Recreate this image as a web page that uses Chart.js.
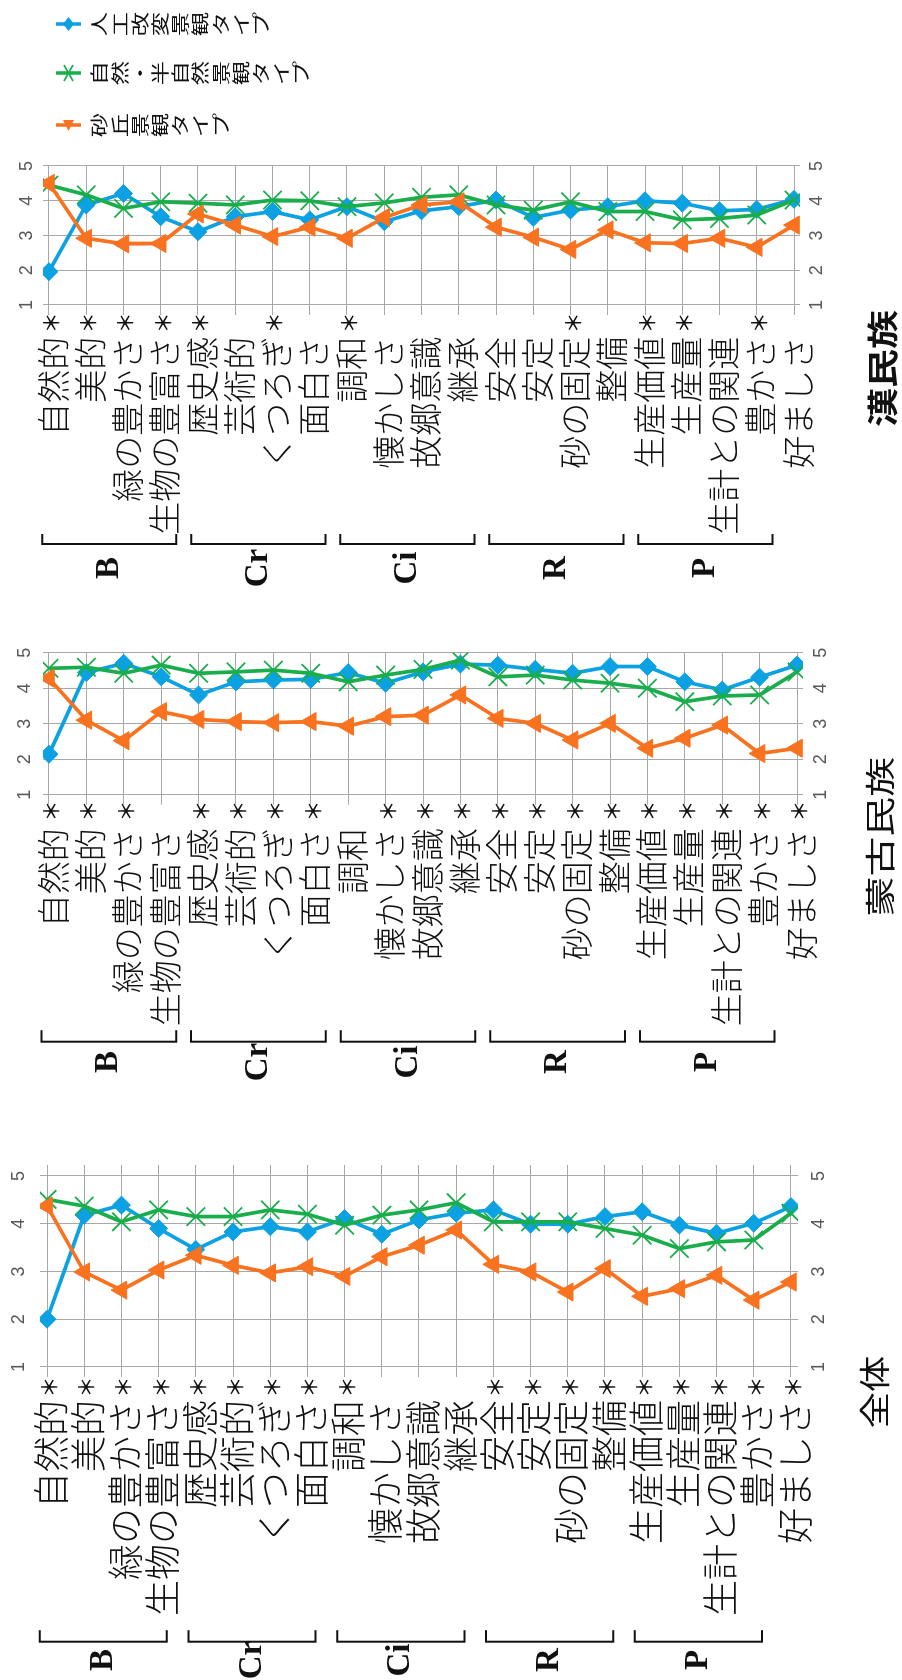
<!DOCTYPE html>
<html>
<head>
<meta charset="utf-8">
<script src="https://cdn.jsdelivr.net/npm/chart.js@4/dist/chart.umd.min.js"></script>
<style>
  html, body { margin: 0; padding: 0; background: #fff; overflow: hidden; width: 902px; height: 1680px; }
  /* the whole figure is laid out landscape and turned a quarter turn, like the source */
  #sheet { position: absolute; left: 0; top: 0; width: 1680px; height: 902px;
           transform-origin: 0 0; transform: translate(0px, 1680px) rotate(-90deg); }
  #sheet canvas { position: absolute; top: 0; }
</style>
</head>
<body>
<div id="sheet">
  <canvas id="allChart" width="560" height="902" style="left:0px"></canvas>
  <canvas id="mongolChart" width="500" height="902" style="left:560px"></canvas>
  <canvas id="hanChart" width="620" height="902" style="left:1060px"></canvas>
</div>
<script>
const categories = ["自然的", "美的", "緑の豊かさ", "生物の豊富さ", "歴史感", "芸術的", "くつろぎ", "面白さ",
  "調和", "懐かしさ", "故郷意識", "継承", "安全", "安定", "砂の固定", "整備",
  "生産価値", "生産量", "生計との関連", "豊かさ", "好ましさ"];
const groupNames = ["B", "Cr", "Ci", "R", "P"];
const groupFirst = [0, 4, 8, 12, 16];
const groupLast = [3, 7, 11, 15, 19];
const seriesNames = ["人工改変景観タイプ", "自然・半自然景観タイプ", "砂丘景観タイプ"];

// 全体
const allArtificial = [2.00, 4.18, 4.39, 3.90, 3.46, 3.83, 3.94, 3.83, 4.11, 3.78, 4.08, 4.22, 4.29, 3.99, 3.99, 4.15, 4.25, 3.97, 3.80, 4.01, 4.36];
const allNatural = [4.51, 4.37, 4.04, 4.29, 4.15, 4.15, 4.29, 4.20, 3.97, 4.18, 4.29, 4.44, 4.04, 4.04, 4.04, 3.90, 3.76, 3.48, 3.62, 3.66, 4.22];
const allDune = [4.37, 2.99, 2.61, 3.03, 3.34, 3.13, 2.97, 3.10, 2.90, 3.31, 3.55, 3.87, 3.15, 2.99, 2.57, 3.06, 2.48, 2.64, 2.92, 2.40, 2.78];
const allStars = [1, 1, 1, 1, 1, 1, 1, 1, 1, 0, 0, 0, 1, 1, 1, 1, 1, 1, 1, 1, 1];

// 蒙古民族
const mongolArtificial = [2.14, 4.44, 4.70, 4.32, 3.81, 4.18, 4.23, 4.25, 4.44, 4.14, 4.46, 4.68, 4.65, 4.53, 4.42, 4.61, 4.61, 4.18, 3.95, 4.31, 4.65];
const mongolNatural = [4.56, 4.59, 4.42, 4.65, 4.42, 4.46, 4.51, 4.42, 4.18, 4.37, 4.53, 4.79, 4.32, 4.37, 4.23, 4.14, 4.00, 3.62, 3.78, 3.81, 4.46];
const mongolDune = [4.28, 3.10, 2.52, 3.34, 3.12, 3.06, 3.03, 3.06, 2.93, 3.20, 3.24, 3.81, 3.15, 3.01, 2.54, 3.01, 2.31, 2.59, 2.96, 2.16, 2.31];
const mongolStars = [1, 1, 1, 0, 1, 1, 1, 1, 0, 1, 1, 1, 1, 1, 1, 1, 1, 1, 1, 1, 1];

// 漢民族
const hanArtificial = [1.96, 3.88, 4.21, 3.54, 3.11, 3.54, 3.69, 3.45, 3.83, 3.40, 3.71, 3.83, 4.02, 3.52, 3.73, 3.83, 4.00, 3.93, 3.71, 3.75, 4.04];
const hanNatural = [4.45, 4.17, 3.78, 3.97, 3.93, 3.88, 4.02, 4.00, 3.83, 3.94, 4.10, 4.17, 3.88, 3.73, 3.97, 3.69, 3.69, 3.45, 3.49, 3.59, 4.02];
const hanDune = [4.50, 2.92, 2.76, 2.77, 3.62, 3.30, 2.97, 3.24, 2.92, 3.52, 3.88, 3.97, 3.24, 2.95, 2.60, 3.16, 2.79, 2.77, 2.92, 2.66, 3.30];
const hanStars = [1, 1, 1, 1, 1, 0, 1, 0, 1, 0, 0, 0, 0, 0, 1, 0, 1, 1, 0, 1, 0];

const colors = ["#0ba1e2", "#19ae4b", "#f8721f"];
const pointStyles = ["rectRot", "crossRot", "triangle"];
const pointSizes = [9, 13, 10.5];
const gridColor = "#a8a8a8";
const jp = '"Noto Sans CJK JP", "Noto Sans CJK SC", sans-serif';

const keepWhole = (scale) => {
  scale.ticks = scale.ticks.filter((t) => Math.abs(t.value - Math.round(t.value)) < 1e-6);
};

function drawLegend(ctx) {
  const cols = [596, 547, 495];
  cols.forEach((x, k) => {
    ctx.strokeStyle = colors[k];
    ctx.fillStyle = colors[k];
    ctx.lineWidth = 3.5;
    ctx.beginPath();
    ctx.moveTo(x, 56);
    ctx.lineTo(x, 81);
    ctx.stroke();
    const cy = 68.5;
    ctx.beginPath();
    if (k === 0) {
      ctx.moveTo(x - 7, cy); ctx.lineTo(x, cy - 5.5); ctx.lineTo(x + 7, cy); ctx.lineTo(x, cy + 5.5);
      ctx.closePath(); ctx.fill();
    } else if (k === 1) {
      ctx.lineWidth = 1.8;
      ctx.moveTo(x - 8, cy - 4.5); ctx.lineTo(x + 8, cy + 4.5);
      ctx.moveTo(x - 8, cy + 4.5); ctx.lineTo(x + 8, cy - 4.5);
      ctx.stroke();
    } else {
      ctx.moveTo(x - 6, cy); ctx.lineTo(x + 5, cy - 5.5); ctx.lineTo(x + 5, cy + 5.5);
      ctx.closePath(); ctx.fill();
    }
    // vertical text, one character at a time
    ctx.fillStyle = "#111";
    ctx.font = "18px " + jp;
    ctx.textAlign = "center";
    ctx.textBaseline = "middle";
    Array.from(seriesNames[k]).forEach((ch, j) => {
      ctx.save();
      ctx.translate(x, 99.5 + j * 20.2);
      ctx.scale(1.35, 1);
      ctx.fillText(ch, 0, 0);
      ctx.restore();
    });
  });
}

function annotations(cfg) {
  return {
    id: "annotations",
    afterDraw(chart) {
      const { ctx, chartArea } = chart;
      const ys = chart.scales.y;
      ctx.save();

      // category labels and significance marks
      ctx.fillStyle = "#111";
      ctx.textBaseline = "middle";
      categories.forEach((name, i) => {
        const y = ys.getPixelForValue(i);
        ctx.textAlign = "right";
        ctx.font = "300 " + cfg.labelSize + "px " + jp;
        ctx.fillText(name, chartArea.left - cfg.labelGap, y + 4);
        if (cfg.stars[i]) {
          ctx.textAlign = "center";
          ctx.font = "500 21px " + jp;
          ctx.fillText("＊", chartArea.left - cfg.starGap, y + 2);
        }
      });

      // group brackets
      ctx.strokeStyle = "#111";
      ctx.lineWidth = 2;
      groupNames.forEach((g, k) => {
        const a = ys.getPixelForValue(groupFirst[k] - cfg.bStart);
        const b = ys.getPixelForValue(groupLast[k] + cfg.bEnd);
        ctx.beginPath();
        ctx.moveTo(cfg.bracketX + cfg.bracketTick, a);
        ctx.lineTo(cfg.bracketX, a);
        ctx.lineTo(cfg.bracketX, b);
        ctx.lineTo(cfg.bracketX + cfg.bracketTick, b);
        ctx.stroke();
        ctx.font = 'bold 33px "Liberation Serif", serif';
        ctx.textAlign = "center";
        ctx.fillText(g, cfg.letterX, (a + b) / 2);
      });

      // panel title
      ctx.save();
      ctx.translate(cfg.titleX, cfg.titleY);
      ctx.scale(cfg.titleScale, 1);
      ctx.font = cfg.titleWeight + " " + cfg.titleSize + "px " + jp;
      ctx.textAlign = "center";
      ctx.fillText(cfg.title, 0, 0);
      ctx.restore();

      if (cfg.legend) drawLegend(ctx);
      ctx.restore();
    },
  };
}

function makePanel(id, series, cfg) {
  const tickFont = { family: '"Liberation Sans", Arial, sans-serif', size: 18 };
  return new Chart(document.getElementById(id), {
    type: "line",
    data: {
      datasets: series.map((vals, k) => ({
        label: seriesNames[k],
        data: vals.map((v, i) => ({ x: v, y: i })),
        borderColor: colors[k],
        backgroundColor: colors[k],
        borderWidth: 3.7,
        pointStyle: pointStyles[k],
        pointRadius: pointSizes[k],
        pointBorderWidth: k === 1 ? 1.8 : 1,
        pointBackgroundColor: colors[k],
        pointBorderColor: colors[k],
        order: 2 - k,
      })),
    },
    options: {
      responsive: false,
      animation: false,
      indexAxis: "y",
      layout: { autoPadding: false, padding: { left: 0, top: 0, bottom: 0, right: cfg.padRight } },
      plugins: { legend: { display: false }, tooltip: { enabled: false } },
      scales: {
        x: {
          type: "linear", position: "bottom", min: 1, max: cfg.max,
          afterBuildTicks: keepWhole,
          afterFit: (s) => { s.height = cfg.bottom; },
          ticks: { stepSize: 1, includeBounds: false, color: "#595959", font: tickFont, padding: cfg.padBottom },
          grid: { color: gridColor, lineWidth: 1, drawTicks: false },
          border: { display: false },
        },
        x2: {
          type: "linear", position: "top", min: 1, max: cfg.max,
          afterBuildTicks: keepWhole,
          afterFit: (s) => { s.height = cfg.top; },
          ticks: { stepSize: 1, includeBounds: false, color: "#595959", font: tickFont, padding: cfg.padTop },
          grid: { display: false, drawTicks: false },
          border: { display: false },
        },
        y: {
          type: "linear", reverse: true, min: -cfg.off, max: categories.length - 1 + cfg.off,
          afterBuildTicks: keepWhole,
          afterFit: (s) => { s.width = cfg.left; },
          ticks: { display: false, stepSize: 1, includeBounds: false },
          grid: { color: gridColor, lineWidth: 1, drawTicks: true, tickLength: 10 },
          border: { display: false },
        },
      },
    },
    plugins: [annotations(cfg)],
  });
}

makePanel("allChart", [allArtificial, allNatural, allDune], {
  left: 313, padRight: 45, top: 40, bottom: 104, max: 5.23, off: 0.19,
  padTop: 10, padBottom: 10,
  stars: allStars, labelSize: 36, labelGap: 33, starGap: 20,
  bracketX: 38.3, bracketTick: 11.5, letterX: 20, bStart: 0.2, bEnd: 0.22,
  title: "全体", titleX: 288, titleY: 874.5, titleSize: 31, titleScale: 1.17, titleWeight: 400,
});

makePanel("mongolChart", [mongolArtificial, mongolNatural, mongolDune], {
  left: 325.3, padRight: 32.7, top: 43, bottom: 99, max: 5, off: 0.16,
  padTop: 7, padBottom: 7.7,
  stars: mongolStars, labelSize: 33, labelGap: 33.6, starGap: 16.3,
  bracketX: 78.3, bracketTick: 11.5, letterX: 58, bStart: 0.2, bEnd: 0.4,
  title: "蒙古民族", titleX: 283.3, titleY: 880, titleSize: 30, titleScale: 1.33, titleWeight: 400,
});

makePanel("hanChart", [hanArtificial, hanNatural, hanDune], {
  left: 315, padRight: 166, top: 43, bottom: 102, max: 5, off: 0.16,
  padTop: 4.7, padBottom: 6.7,
  stars: hanStars, labelSize: 33, labelGap: 31.7, starGap: 17.7,
  bracketX: 76, bracketTick: 10, letterX: 52, bStart: 0.18, bEnd: 0.42,
  title: "漢民族", titleX: 251.5, titleY: 882, titleSize: 31, titleScale: 1.26, titleWeight: 700,
  legend: true,
});
</script>
</body>
</html>
